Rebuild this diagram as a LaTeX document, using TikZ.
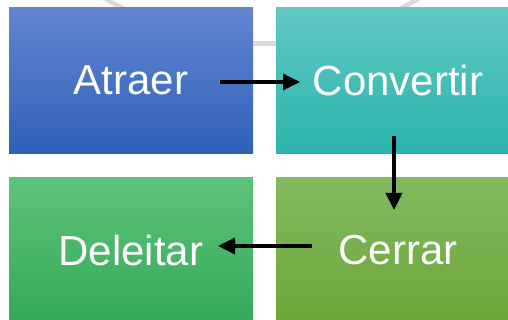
\documentclass[tikz,border=0pt]{standalone}
\usepackage{fontspec}
\newfontfamily\boxfont{Liberation Sans}
\usetikzlibrary{arrows.meta}

\definecolor{atraerTop}{RGB}{99,133,207}
\definecolor{atraerBot}{RGB}{46,97,186}
\definecolor{convertirTop}{RGB}{96,200,194}
\definecolor{convertirBot}{RGB}{44,179,173}
\definecolor{deleitarTop}{RGB}{95,194,123}
\definecolor{deleitarBot}{RGB}{51,170,86}
\definecolor{cerrarTop}{RGB}{129,185,95}
\definecolor{cerrarBot}{RGB}{108,167,58}

\begin{document}
\begin{tikzpicture}[
  x=1pt, y=-1pt,
  stage/.style={
      rectangle,
      minimum width=244pt,
      minimum height=146pt,
      inner sep=0pt,
      text=white,
      font=\boxfont\fontsize{42}{50}\selectfont
    },
  flow arrow/.style={
      arrows = {-Triangle[length=17pt,width=16pt]},
      line width=3.5pt,
      draw=black
    },
  backdrop/.style={
      draw={rgb,255:red,218; green,218; blue,218},
      line width=4.5pt
    }]

  \useasboundingbox (0,0) rectangle (508,320);
  \clip (0,0) rectangle (508,320);

  % faint ring behind the boxes
  \draw [backdrop] (104,-2) -- (124,9);
  \draw [backdrop] (420,-2) -- (400,9);
  \draw [backdrop] (240,43.5) -- (290,43.5);

  \node [stage, top color=atraerTop, bottom color=atraerBot] (atraer) at (131,81) {\raisebox{2pt}{Atraer}};
  \node [stage, top color=convertirTop, bottom color=convertirBot] (convertir) at (398,81) {\raisebox{2pt}{Convertir}};
  \node [stage, top color=deleitarTop, bottom color=deleitarBot] (deleitar) at (131,251) {\raisebox{2pt}{Deleitar}};
  \node [stage, top color=cerrarTop, bottom color=cerrarBot] (cerrar) at (398,251) {\raisebox{2pt}{Cerrar}};

  \draw [flow arrow] [shorten <=89pt, shorten >=98pt] ([yshift=-1pt]atraer.center) -- ([yshift=-1pt]convertir.center);
  \draw [flow arrow] [shorten <=55pt, shorten >=41pt] ([xshift=-4pt]convertir.center) -- ([xshift=-4pt]cerrar.center);
  \draw [flow arrow] [shorten <=86pt, shorten >=87pt] ([yshift=5pt]cerrar.center) -- ([yshift=5pt]deleitar.center);
\end{tikzpicture}
\end{document}
